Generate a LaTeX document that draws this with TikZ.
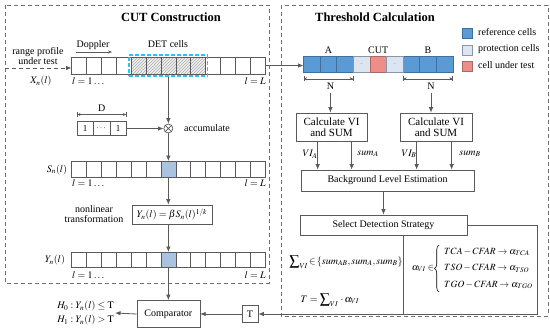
\documentclass[tikz,border=0pt]{standalone}
\usepackage{amsmath}
\usepackage{mathptmx}
\usepackage{fontspec}
\setmainfont{Liberation Serif}
\usetikzlibrary{arrows.meta,patterns,fit,calc,decorations.pathreplacing}
\definecolor{lg}{HTML}{5A5A5A}
\definecolor{framec}{HTML}{707070}
\definecolor{refc}{HTML}{5B9BD5}
\definecolor{refd}{HTML}{3F6F9C}
\definecolor{protc}{HTML}{DDE5F1}
\definecolor{protd}{HTML}{8A96A6}
\definecolor{cutc}{HTML}{EE8E88}
\definecolor{cutd}{HTML}{A86A66}
\definecolor{hlc}{HTML}{A9C3E0}
\definecolor{detc}{HTML}{2EC0F0}
\tikzset{
  frame/.style={draw=framec, line width=0.8pt, dash pattern=on 4pt off 3pt},
  title/.style={font=\fontsize{12.5}{14}\selectfont\bfseries},
  ln/.style={draw=lg, line width=0.7pt},
  arr/.style={draw=lg, line width=0.8pt, -{Latex[length=5.5pt,width=4.5pt]}},
  smallarr/.style={draw=lg, line width=0.6pt, -{Stealth[length=4pt,width=3pt]}},
  dim/.style={draw=lg, line width=0.5pt, {Bar[width=5pt]Stealth[length=3pt,width=3pt]}-{Stealth[length=3pt,width=3pt]Bar[width=5pt]}},
  cellbox/.style={draw=lg, line width=0.6pt, minimum width=14.9pt, minimum height=17pt, inner sep=0pt, outer sep=0pt},
  hatch/.style={preaction={fill=gray!12}, pattern=north east lines, pattern color=gray!65},
  hl/.style={fill=hlc},
  rcell/.style={line width=0.6pt, minimum width=16.6pt, minimum height=15.5pt, inner sep=0pt, outer sep=0pt},
  refcell/.style={rcell, draw=refd, fill=refc},
  protcell/.style={rcell, draw=protd, fill=protc},
  cutcell/.style={rcell, draw=cutd, fill=cutc},
  legsq/.style={minimum size=10pt, inner sep=0pt, line width=0.5pt},
  box/.style={draw=lg, line width=0.7pt, inner sep=1pt, fill=white},
  detbox/.style={draw=detc, line width=1.3pt, dash pattern=on 4pt off 2pt, inner sep=2pt},
  dcell/.style={draw=lg, line width=0.6pt, minimum width=16.5pt, minimum height=14pt, inner sep=0pt, outer sep=0pt, font=\fontsize{9}{10}\selectfont},
  caseline/.style={anchor=west, inner sep=1pt, font=\fontsize{9.5}{11}\selectfont},
  bracestyle/.style={draw=black, line width=0.6pt, decorate, decoration={brace, amplitude=4.5pt}},
}
\begin{document}
\begin{tikzpicture}[x=1pt,y=-1pt, font=\fontsize{10}{11}\selectfont]
\useasboundingbox (0,0) rectangle (550,330);
\fill[white] (0,0) rectangle (550,330);

% frames
\draw[frame] (5,5) rectangle (269,283);
\draw[frame] (281,5) rectangle (548,316);
\node[title] (t1) at (171,17) {CUT Construction};
\node[title] (t2) at (375,17) {Threshold Calculation};

% ---------- CUT construction ----------
\foreach \i in {1,2,3,4,10,11,12,13}
  \node[cellbox] (x\i) at ({71.5+(\i-0.5)*14.9},65.5) {};
\foreach \i in {5,...,9}
  \node[cellbox, hatch] (x\i) at ({71.5+(\i-0.5)*14.9},65.5) {};
\node[detbox, fit=(x5)(x9)] (det) {};
\node (detl) at (168,44) {DET cells};
\node (dop) at (93,45) {Doppler};
\coordinate (dopa) at (76,52);
\coordinate (dopb) at (112,52);
\draw[smallarr] (dopa) -- (dopb);
\node[align=center, font=\fontsize{10}{10.5}\selectfont] (rp) at (38,56) {range profile\\under test};
\coordinate (inp) at (5,68);
\draw[arr, dash pattern=on 4pt off 3pt] (inp) -- (inp -| x1.west);
\node (xl) at (41,81) {$X_n(l)$};
\node[anchor=west, inner sep=1pt] (l1a) at (71,81.5) {$l=1\ldots$};
\node[anchor=east, inner sep=1pt] (lLa) at (267,81.5) {$l=L$};

% D vector
\node[dcell] (d1) at (85.2,128.5) {1};
\node[dcell] (d2) at (101.7,128.5) {$\cdots$};
\node[dcell] (d3) at (118.2,128.5) {1};
\draw[dim] ([yshift=7pt]d1.north west) -- ([yshift=7pt]d3.north east) node[midway, above=-1pt] (dl) {D};
\node[circle, draw=lg, line width=0.7pt, minimum size=9pt, inner sep=0pt] (mul) at ($(x7.center)+(0,63)$) {};
\draw[ln] (mul.north west) -- (mul.south east) (mul.north east) -- (mul.south west);
\draw[arr] (det.south) -- (mul.north);
\draw[arr] (d3.east) -- (mul.west);
\node (acc) at (207,128) {accumulate};

% S row
\foreach \i in {1,...,6,8,9,10,11,12,13}
  \node[cellbox, minimum height=16pt] (s\i) at ({71.5+(\i-0.5)*14.9},169) {};
\node[cellbox, minimum height=16pt, hl] (s7) at ({71.5+6.5*14.9},169) {};
\draw[arr] (mul.south) -- (s7.north);
\node (sl) at (57,169.5) {$S_n(l)$};
\node[anchor=west, inner sep=1pt] (l1b) at (71,183.5) {$l=1\ldots$};
\node[anchor=east, inner sep=1pt] (lLb) at (267,183.5) {$l=L$};

% formula
\node[box, minimum width=80pt, minimum height=19pt] (fb) at (172,214.5) {$Y_n(l)=\beta S_n(l)^{1/k}$};
\node[align=center, font=\fontsize{10}{10.5}\selectfont] (nlt) at (94,214) {nonlinear\\transformation};
\draw[arr] (s7.south) -- (s7.south |- fb.north);

% Y row
\foreach \i in {1,...,6,8,9,10,11,12,13}
  \node[cellbox, minimum height=15pt] (y\i) at ({71.5+(\i-0.5)*14.9},259.5) {};
\node[cellbox, minimum height=15pt, hl] (y7) at ({71.5+6.5*14.9},259.5) {};
\coordinate (fbo) at (s7.south |- fb.south);
\draw[arr] (fbo) -- (y7.north);
\node (yl) at (55,260) {$Y_n(l)$};
\node[anchor=west, inner sep=1pt] (l1c) at (71,275) {$l=1\ldots$};
\node[anchor=east, inner sep=1pt] (lLc) at (267,275) {$l=L$};

% comparator
\node[box, minimum width=63pt, minimum height=27pt] (comp) at ($(y7.center)+(0,54.5)$) {Comparator};
\draw[arr] (y7.south) -- (comp.north);
\node[align=left, anchor=east, inner sep=1pt, font=\fontsize{10}{14}\selectfont] (hyp) at (115,313) {$H_0 : Y_n(l) \le \mathrm{T}$\\$H_1 : Y_n(l) > \mathrm{T}$};
\draw[arr] (comp.west) -- (hyp.east);
\node[box, minimum width=16pt, minimum height=17pt] (tb) at (250,314) {T};
\draw[arr] (tb.west) -- (comp.east);

% ---------- Threshold calculation ----------
\foreach \i in {1,2,3,7,8,9}
  \node[refcell] (r\i) at ({303.5+(\i-0.5)*16.6},64.5) {};
\node[protcell, font=\fontsize{5}{5}\selectfont, text=gray] (r4) at ({303.5+3.5*16.6},64.5) {...};
\node[cutcell] (r5) at ({303.5+4.5*16.6},64.5) {};
\node[protcell, font=\fontsize{5}{5}\selectfont, text=gray] (r6) at ({303.5+5.5*16.6},64.5) {...};
\draw[arr] (x13.east) -- (x13.east -| r1.west);
\node (la) at ($(r2.center)+(0,-14.5)$) {A};
\node (lc) at ($(r5.center)+(0,-14.5)$) {CUT};
\node (lb) at ($(r8.center)+(0,-14.5)$) {B};
\draw[dim] ([yshift=-6.5pt]r1.south west) -- ([yshift=-6.5pt]r3.south east);
\draw[dim] ([yshift=-6.5pt]r7.south west) -- ([yshift=-6.5pt]r9.south east);
\node (na) at ($(r2.center)+(2,22)$) {N};
\node (nb) at ($(r8.center)+(3,22)$) {N};

% legend
\node[legsq, fill=refc, draw=refd] (lg1) at (467,33) {};
\node[legsq, fill=protc, draw=protd] (lg2) at (467,50) {};
\node[legsq, fill=cutc, draw=cutd] (lg3) at (467,66) {};
\node[anchor=west, inner sep=1pt] (lt1) at (477,32.5) {reference cells};
\node[anchor=west, inner sep=1pt] (lt2) at (477,49.5) {protection cells};
\node[anchor=west, inner sep=1pt] (lt3) at (477,65.5) {cell under test};

% calc boxes
\node[box, minimum width=71pt, minimum height=28pt, align=center, font=\fontsize{11}{11}\selectfont] (ca) at (331.5,127) {Calculate VI\\and SUM};
\node[box, minimum width=72pt, minimum height=28pt, align=center, font=\fontsize{11}{11}\selectfont] (cb) at (436,127) {Calculate VI\\and SUM};
\draw[arr] (na.south) -- (na.south |- ca.north);
\draw[arr] (nb.south) -- (nb.south |- cb.north);

\node[box, minimum width=173pt, minimum height=21pt] (bg) at (387.5,180.5) {Background Level Estimation};
\coordinate (va) at ([xshift=22pt]ca.south west);
\coordinate (sa) at ([xshift=56pt]ca.south west);
\coordinate (vb) at ([xshift=17pt]cb.south west);
\coordinate (sb) at ([xshift=52pt]cb.south west);
\draw[arr] (va) -- (va |- bg.north);
\draw[arr] (sa) -- (sa |- bg.north);
\draw[arr] (vb) -- (vb |- bg.north);
\draw[arr] (sb) -- (sb |- bg.north);
\node (vla) at (310,154) {$VI_A$};
\node (sla) at (368,154) {$sum_A$};
\node (vlb) at (409,154) {$VI_B$};
\node (slb) at (470,154) {$sum_B$};

\node[box, minimum width=167pt, minimum height=20pt] (sel) at (383.5,225) {Select Detection Strategy};
\draw[arr] (sel.north |- bg.south) -- (sel.north);

\coordinate (corner) at (537,314);
\draw[arr] (sel.east) -| (corner) -- (tb.east);
\coordinate (divb) at (403,314);
\draw[ln] (divb |- sel.south) -- (divb);

\node (sumset) at (346,262) {$\displaystyle\sum\nolimits_{VI}\!\in\!\{sum_{AB},sum_A,sum_B\}$};
\node (tform) at (330,300) {$T=\displaystyle\sum\nolimits_{VI}\,\cdot\,\alpha_{VI}$};

% alpha cases
\node[inner sep=1pt, font=\fontsize{9.5}{11}\selectfont] (alv) at (423,268.5) {$\alpha_{VI}\in$};
\coordinate (brb) at (439,292);
\coordinate (brt) at (439,245);
\draw[bracestyle] (brb) -- (brt);
\node[caseline] (cs1) at (443,252) {$TCA-CFAR\to\alpha_{TCA}$};
\node[caseline] (cs2) at (443,268.5) {$TSO-CFAR\to\alpha_{TSO}$};
\node[caseline] (cs3) at (443,285) {$TGO-CFAR\to\alpha_{TGO}$};
\end{tikzpicture}
\end{document}
